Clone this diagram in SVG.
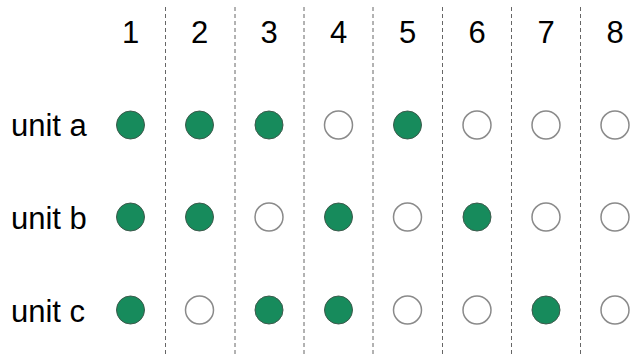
<svg xmlns="http://www.w3.org/2000/svg" width="630" height="357" viewBox="0 0 630 357">
<style>
.t{font-family:"Liberation Sans",Arial,sans-serif;font-size:31px;fill:#000}
.n{text-anchor:middle}
.div{stroke:#666;stroke-width:1;stroke-dasharray:4,3;fill:none}
.on{fill:#178b5c;stroke:#3d5a4c;stroke-width:1}
.off{fill:#fff;stroke:#8a8a8a;stroke-width:1.5}
</style>
<rect width="630" height="357" fill="#fff"/>
<g id="dividers">
<line class="div" x1="165.5" y1="7" x2="165.5" y2="357"/>
<line class="div" x1="235" y1="7" x2="235" y2="357"/>
<line class="div" x1="304" y1="7" x2="304" y2="357"/>
<line class="div" x1="373" y1="7" x2="373" y2="357"/>
<line class="div" x1="442.5" y1="7" x2="442.5" y2="357"/>
<line class="div" x1="511.5" y1="7" x2="511.5" y2="357"/>
<line class="div" x1="580.5" y1="7" x2="580.5" y2="357"/>
</g>
<g id="headers">
<text class="t n" x="130.5" y="43">1</text>
<text class="t n" x="199.5" y="43">2</text>
<text class="t n" x="269" y="43">3</text>
<text class="t n" x="338.5" y="43">4</text>
<text class="t n" x="407.5" y="43">5</text>
<text class="t n" x="477" y="43">6</text>
<text class="t n" x="546" y="43">7</text>
<text class="t n" x="615" y="43">8</text>
</g>
<g id="unit-a">
<text class="t" x="11" y="136">unit a</text>
<circle class="on" cx="130.5" cy="125" r="14"/>
<circle class="on" cx="199.5" cy="125" r="14"/>
<circle class="on" cx="269" cy="125" r="14"/>
<circle class="off" cx="338.5" cy="125" r="14"/>
<circle class="on" cx="407.5" cy="125" r="14"/>
<circle class="off" cx="477" cy="125" r="14"/>
<circle class="off" cx="546" cy="125" r="14"/>
<circle class="off" cx="615" cy="125" r="14"/>
</g>
<g id="unit-b">
<text class="t" x="11" y="229">unit b</text>
<circle class="on" cx="130.5" cy="217" r="14"/>
<circle class="on" cx="199.5" cy="217" r="14"/>
<circle class="off" cx="269" cy="217" r="14"/>
<circle class="on" cx="338.5" cy="217" r="14"/>
<circle class="off" cx="407.5" cy="217" r="14"/>
<circle class="on" cx="477" cy="217" r="14"/>
<circle class="off" cx="546" cy="217" r="14"/>
<circle class="off" cx="615" cy="217" r="14"/>
</g>
<g id="unit-c">
<text class="t" x="11" y="322">unit c</text>
<circle class="on" cx="130.5" cy="310" r="14"/>
<circle class="off" cx="199.5" cy="310" r="14"/>
<circle class="on" cx="269" cy="310" r="14"/>
<circle class="on" cx="338.5" cy="310" r="14"/>
<circle class="off" cx="407.5" cy="310" r="14"/>
<circle class="off" cx="477" cy="310" r="14"/>
<circle class="on" cx="546" cy="310" r="14"/>
<circle class="off" cx="615" cy="310" r="14"/>
</g>
</svg>
